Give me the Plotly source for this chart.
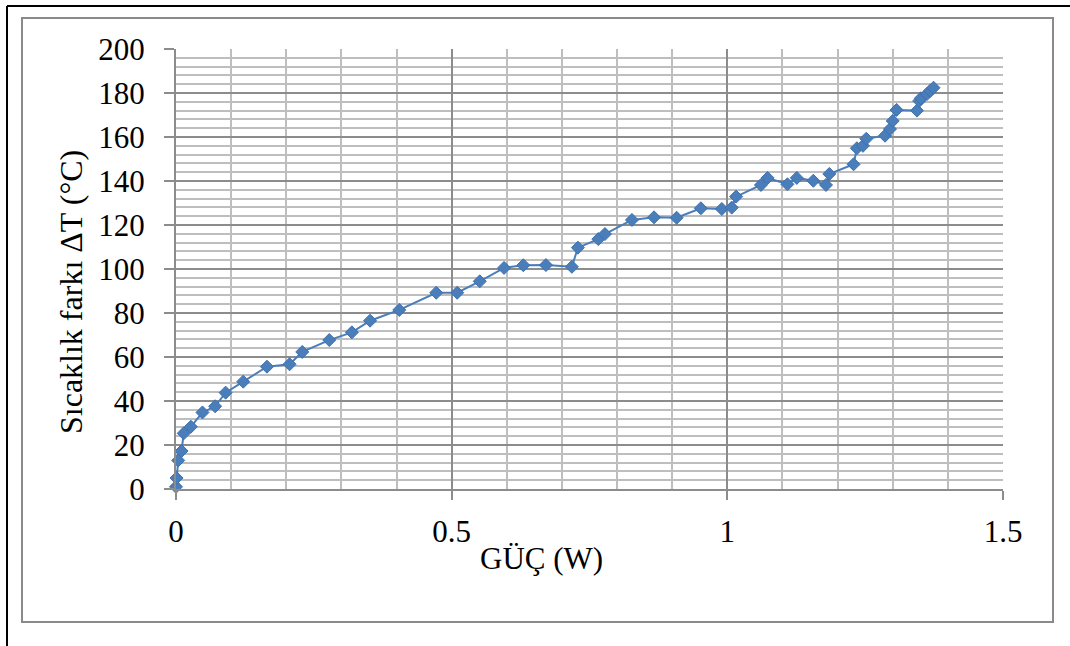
import plotly.graph_objects as go

# Measured heater power (W) and resulting temperature difference (°C)
power_w = [0.000, 0.001, 0.004, 0.010, 0.014, 0.027, 0.048, 0.071, 0.090, 0.122,
           0.165, 0.206, 0.229, 0.278, 0.319, 0.352, 0.405, 0.472, 0.510, 0.551,
           0.595, 0.630, 0.671, 0.718, 0.729, 0.766, 0.778, 0.827, 0.867, 0.908,
           0.952, 0.990, 1.008, 1.016, 1.061, 1.073, 1.109, 1.126, 1.156, 1.179,
           1.185, 1.229, 1.235, 1.246, 1.252, 1.286, 1.295, 1.300, 1.307, 1.344,
           1.348, 1.351, 1.362, 1.368, 1.374]
delta_t = [1.0, 5.0, 13.0, 17.3, 25.3, 28.3, 34.8, 37.6, 43.8, 48.8,
           55.6, 56.7, 62.3, 67.7, 71.2, 76.5, 81.4, 89.2, 89.2, 94.4,
           100.5, 101.7, 101.8, 101.0, 109.7, 113.6, 115.9, 122.3, 123.5, 123.3,
           127.6, 127.3, 127.9, 132.9, 138.2, 141.4, 138.5, 141.4, 140.1, 138.2,
           143.2, 147.6, 154.9, 156.0, 159.2, 160.6, 163.6, 167.3, 172.3, 172.0,
           176.4, 177.6, 179.5, 181.0, 182.4]

x_title = "GÜÇ (W)"
y_title = "Sıcaklık farkı ΔT (°C)"

W, H = 1070, 646
L, R, T, B = 176, 67, 49, 157
PW, PH = W - L - R, H - T - B

FONT = "Liberation Serif, Times New Roman, serif"
BLUE = "#4A7EBB"
MAJOR = "#8C8C8C"
MINOR = "#BEBEBE"


def px_x(p):
    return (p - L) / PW


def px_y(p):
    return (H - B - p) / PH


fig = go.Figure()
fig.add_trace(go.Scatter(
    x=power_w, y=delta_t, mode="lines+markers",
    line=dict(color=BLUE, width=2),
    marker=dict(symbol="diamond", size=10, color=BLUE,
                line=dict(color="#3F70AC", width=1)),
    showlegend=False, cliponaxis=False,
))

fig.update_layout(
    width=W, height=H,
    margin=dict(l=L, r=R, t=T, b=B, pad=0),
    paper_bgcolor="white", plot_bgcolor="white",
    font=dict(family=FONT, size=30, color="black"),
    xaxis=dict(
        range=[0, 1.5], dtick=0.5, tick0=0,
        showgrid=True, gridcolor=MAJOR, gridwidth=2,
        minor=dict(dtick=0.1, showgrid=True, gridcolor=MINOR, gridwidth=2, ticks=""),
        showline=True, linecolor=MAJOR, linewidth=2,
        ticks="outside", ticklen=9, tickwidth=2, tickcolor=MAJOR,
        ticklabelstandoff=5, zeroline=False,
        tickfont=dict(family=FONT, size=31, color="black"),
    ),
    yaxis=dict(
        range=[0, 200], dtick=20, tick0=0,
        showgrid=True, gridcolor=MAJOR, gridwidth=2,
        minor=dict(dtick=4, showgrid=True, gridcolor=MINOR, gridwidth=2, ticks=""),
        showline=True, linecolor=MAJOR, linewidth=2,
        ticks="outside", ticklen=10, tickwidth=2, tickcolor=MAJOR,
        ticklabelstandoff=13, zeroline=False,
        tickfont=dict(family=FONT, size=31, color="black"),
    ),
    annotations=[
        dict(text=x_title, xref="paper", yref="paper",
             x=px_x(541), y=px_y(558), xanchor="center", yanchor="middle",
             showarrow=False, font=dict(family=FONT, size=31, color="black")),
        dict(text=y_title, xref="paper", yref="paper", textangle=-90,
             x=px_x(71), y=px_y(292), xanchor="center", yanchor="middle",
             showarrow=False, font=dict(family=FONT, size=32, color="black")),
    ],
    shapes=[
        # chart area border
        dict(type="rect", xref="paper", yref="paper",
             x0=px_x(22), x1=px_x(1053), y0=px_y(622), y1=px_y(18),
             line=dict(color="#8A8A8A", width=2), layer="below"),
        # outer frame: top and left edges
        dict(type="line", xref="paper", yref="paper",
             x0=px_x(7), x1=px_x(1072), y0=px_y(6), y1=px_y(6),
             line=dict(color="black", width=2)),
        dict(type="line", xref="paper", yref="paper",
             x0=px_x(7), x1=px_x(7), y0=px_y(6), y1=px_y(650),
             line=dict(color="black", width=2)),
    ],
)

fig.write_html("out.html")
